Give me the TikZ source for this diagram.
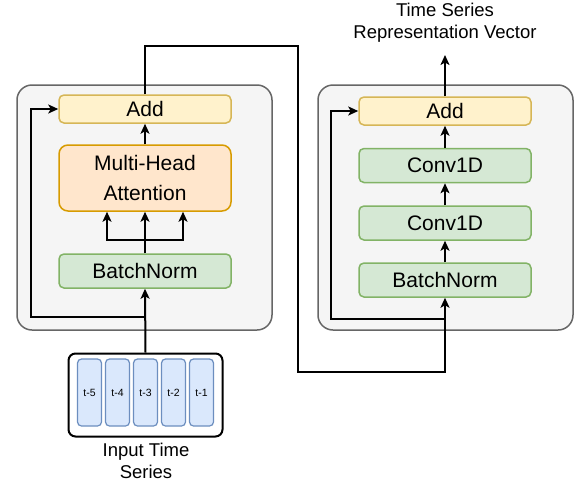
\documentclass[tikz,border=0pt]{standalone}
\usepackage{fontspec}
\setmainfont{Liberation Sans}
\usepackage{tikz}
\usetikzlibrary{arrows.meta,calc}
\definecolor{addfill}{HTML}{FFF2CC}
\definecolor{addline}{HTML}{D6B656}
\definecolor{attfill}{HTML}{FFE6CC}
\definecolor{attline}{HTML}{D79B00}
\definecolor{normfill}{HTML}{D5E8D4}
\definecolor{normline}{HTML}{82B366}
\definecolor{encfill}{HTML}{F5F5F5}
\definecolor{encline}{HTML}{666666}
\definecolor{cellfill}{HTML}{DAE8FC}
\definecolor{cellline}{HTML}{6C8EBF}
\newcommand{\boxw}{172pt}
\newcommand{\bigfont}{\fontsize{21}{30}\selectfont}
\newcommand{\labfont}{\fontsize{18.5}{22.5}\selectfont}
\newcommand{\cellfont}{\fontsize{10.5}{12}\selectfont}

\begin{document}
\begin{tikzpicture}[x=1pt,y=-1pt,
        encoder/.style={draw=encline, fill=encfill, line width=1.5pt, rounded corners=15pt,
            minimum width=255pt, minimum height=245pt},
        block/.style={line width=1.5pt, rounded corners=5pt, minimum width=\boxw,
            inner sep=0pt, font=\bigfont, align=center},
        addbox/.style={block, draw=addline, fill=addfill, minimum height=28pt},
        attbox/.style={block, draw=attline, fill=attfill, minimum height=66pt, rounded corners=9pt},
        normbox/.style={block, draw=normline, fill=normfill, minimum height=34pt},
        cell/.style={draw=cellline, fill=cellfill, line width=1.2pt, rounded corners=4pt,
            minimum width=24pt, minimum height=67pt, inner sep=0pt, font=\cellfont},
        series/.style={draw=black, fill=white, line width=2pt, rounded corners=7pt,
            minimum width=154pt, minimum height=83pt},
        caption/.style={font=\labfont, align=center, inner sep=0pt},
        link/.style={line width=2pt, -{Stealth[length=10pt,width=9pt,inset=2.5pt]}}]
        \useasboundingbox (0,0) rectangle (582,483);

        \node[encoder] (encL) at (144.5,207.5) {};
        \node[encoder] (encR) at (445.5,207.5) {};

        \node[addbox] (addL) at (145,109) {Add};
        \node[attbox] (mha) at (145,178) {Multi-Head\\Attention};
        \node[normbox] (bnL) at (145,271) {BatchNorm};

        \node[addbox] (addR) at (445,111) {Add};
        \node[normbox] (convB) at (445,165.5) {Conv1D};
        \node[normbox] (convA) at (445,223) {Conv1D};
        \node[normbox] (bnR) at (445,280) {BatchNorm};

        \node[series] (inp) at (145.5,395) {};
        \foreach \i/\t in {0/5,1/4,2/3,3/2,4/1}
            \node[cell] (c\i) at (89.5+28*\i,392.5) {t-\t};
        \node[caption] (inlab) at (146,461) {Input Time\\Series};
        \node[caption, anchor=south, inner ysep=12pt] (outlab) at (445,55) {Time Series\\Representation Vector};

        \coordinate (splitL) at (145,317);
        \coordinate (turnL) at (31,317);
        \coordinate (fork) at (145,240);
        \coordinate (hop1) at (298,46);
        \coordinate (hop2) at (298,372);
        \coordinate (splitR) at (445,319);
        \coordinate (turnR) at (331,319);

        \draw[link] (inp.north) -- (bnL.south);
        \draw[link] (splitL) -- (turnL) |- (addL.west);
        \draw[link] (bnL.north) -- (mha.south);
        \draw[link] (fork) -| ([xshift=-38pt]mha.south);
        \draw[link] (fork) -| ([xshift=38pt]mha.south);
        \draw[link] (mha.north) -- (addL.south);

        \draw[link] (addL.north) |- (hop1) -- (hop2) -| (bnR.south);
        \draw[link] (splitR) -- (turnR) |- (addR.west);
        \draw[link] (bnR.north) -- (convA.south);
        \draw[link] (convA.north) -- (convB.south);
        \draw[link] (convB.north) -- (addR.south);
        \draw[link] (addR.north) -- (outlab.south);
\end{tikzpicture}
\end{document}
